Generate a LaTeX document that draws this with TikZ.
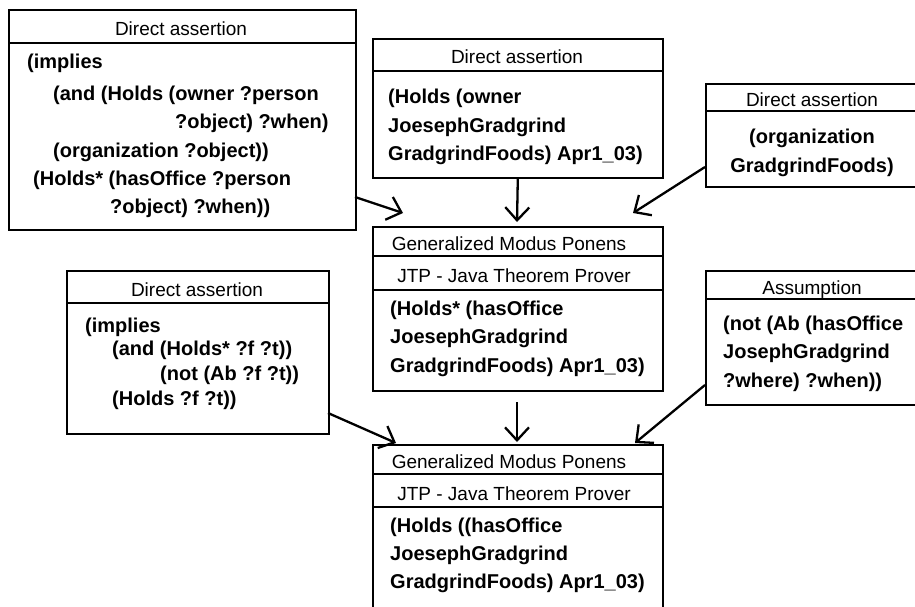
\documentclass[tikz,border=0pt]{standalone}
\usepackage{fontspec}
\setmainfont{Liberation Sans}
\usetikzlibrary{arrows.meta}
\begin{document}
\begin{tikzpicture}[x=1pt,y=-1pt,
 box/.style={draw, line width=1.6pt, inner sep=0pt, anchor=north west},
 hd/.style={font=\fontsize{19}{21}\selectfont, inner sep=0pt, anchor=base},
 bd/.style={font=\fontsize{20}{22}\selectfont\bfseries, inner sep=0pt, anchor=base west},
 bdc/.style={bd, anchor=base},
 arr/.style={line width=2.3pt, -{Straight Barb[length=13pt,width=24pt]}},
 sep/.style={line width=1.6pt}]
\useasboundingbox (0,0) rectangle (915,606);
% boxes
\node[box, minimum width=347pt, minimum height=220pt] (b1) at (8,9) {};
\node[box, minimum width=290pt, minimum height=139pt] (b2) at (372,38) {};
\node[box, minimum width=240pt, minimum height=103pt] (b3) at (705,83) {};
\node[box, minimum width=262pt, minimum height=163pt] (b4) at (66,270) {};
\node[box, minimum width=290pt, minimum height=164pt] (b5) at (372,226) {};
\node[box, minimum width=240pt, minimum height=134pt] (b6) at (705,270) {};
\node[box, minimum width=290pt, minimum height=200pt] (b7) at (372,444) {};
% dividers
\draw[sep] (b1.west |- 0,43) -- (b1.east |- 0,43);
\draw[sep] (b2.west |- 0,71) -- (b2.east |- 0,71);
\draw[sep] (b3.west |- 0,111) -- (b3.east |- 0,111);
\draw[sep] (b4.west |- 0,303) -- (b4.east |- 0,303);
\draw[sep] (b5.west |- 0,256) -- (b5.east |- 0,256);
\draw[sep] (b5.west |- 0,290) -- (b5.east |- 0,290);
\draw[sep] (b6.west |- 0,299) -- (b6.east |- 0,299);
\draw[sep] (b7.west |- 0,474) -- (b7.east |- 0,474);
\draw[sep] (b7.west |- 0,507) -- (b7.east |- 0,507);
% headers
\node[hd] (h1) at (181,35) {Direct assertion};
\node[hd] (h2) at (517,63) {Direct assertion};
\node[hd] (h3) at (812,106) {Direct assertion};
\node[hd] (h4) at (197,296) {Direct assertion};
\node[hd] (h5a) at (509,250) {Generalized Modus Ponens};
\node[hd] (h5b) at (514,282) {JTP - Java Theorem Prover};
\node[hd] (h6) at (812,294) {Assumption};
\node[hd] (h7a) at (509,468) {Generalized Modus Ponens};
\node[hd] (h7b) at (514,500) {JTP - Java Theorem Prover};
% bodies
\node[bd] (t11) at (27,68) {(implies};
\node[bd] (t12) at (53,100) {(and (Holds (owner ?person};
\node[bd] (t13) at (175,128) {?object) ?when)};
\node[bd] (t14) at (53,157) {(organization ?object))};
\node[bd] (t15) at (33,185) {(Holds* (hasOffice ?person};
\node[bd] (t16) at (110,213) {?object) ?when))};
\node[bd] (t21) at (388,103) {(Holds (owner};
\node[bd] (t22) at (388,132) {JoesephGradgrind};
\node[bd] (t23) at (388,160) {GradgrindFoods) Apr1\_03)};
\node[bdc] (t31) at (812,143) {(organization};
\node[bdc] (t32) at (812,172) {GradgrindFoods)};
\node[bd] (t41) at (85,332) {(implies};
\node[bd] (t42) at (112,355) {(and (Holds* ?f ?t))};
\node[bd] (t43) at (160,380) {(not (Ab ?f ?t))};
\node[bd] (t44) at (112,405) {(Holds ?f ?t))};
\node[bd] (t51) at (390,315) {(Holds* (hasOffice};
\node[bd] (t52) at (390,343) {JoesephGradgrind};
\node[bd] (t53) at (390,372) {GradgrindFoods) Apr1\_03)};
\node[bd] (t61) at (723,330) {(not (Ab (hasOffice};
\node[bd] (t62) at (723,358) {JosephGradgrind};
\node[bd] (t63) at (723,387) {?where) ?when))};
\node[bd] (t71) at (390,532) {(Holds ((hasOffice};
\node[bd] (t72) at (390,560) {JoesephGradgrind};
\node[bd] (t73) at (390,588) {GradgrindFoods) Apr1\_03)};
% arrow ends
\coordinate (a1s) at (355,197); \coordinate (a1e) at (403,213);
\coordinate (a2e) at (517,222);
\coordinate (a3s) at (705,167); \coordinate (a3e) at (633,213);
\coordinate (a4s) at (328,413); \coordinate (a4e) at (396,443);
\coordinate (a5s) at (517,402); \coordinate (a5e) at (517,442);
\coordinate (a6s) at (705,385); \coordinate (a6e) at (635,443);
\draw[arr] (a1s) -- (a1e);
\draw[arr] (b2.south) -- (a2e);
\draw[arr] (a3s) -- (a3e);
\draw[arr] (a4s) -- (a4e);
\draw[arr] (a5s) -- (a5e);
\draw[arr] (a6s) -- (a6e);
\end{tikzpicture}
\end{document}
